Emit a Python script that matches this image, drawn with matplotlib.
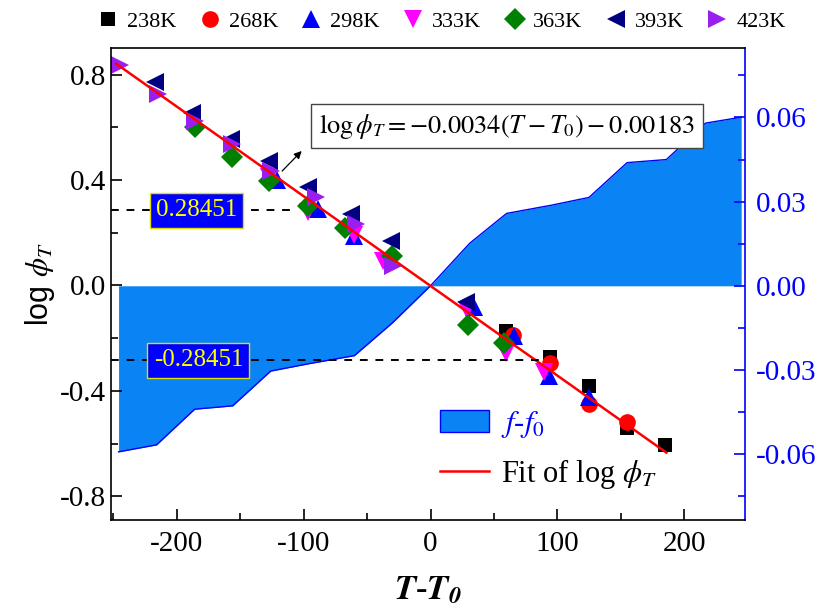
import matplotlib
matplotlib.use("Agg")
import matplotlib.pyplot as plt
from matplotlib.patches import Patch
from matplotlib.ticker import MultipleLocator, FixedLocator, FormatStrFormatter

plt.rcParams['font.family'] = ['Liberation Serif', 'DejaVu Serif']
plt.rcParams['mathtext.fontset'] = 'stix'
plt.rcParams['axes.unicode_minus'] = False

# ---- data ----
series_names = ['238K', '268K', '298K', '333K', '363K', '393K', '423K']
x238 = [59.6, 94.5, 124.7, 154.6, 184.8]
y238 = [-0.171, -0.272, -0.380, -0.541, -0.607]
x268 = [64.8, 94.5, 124.7, 155.0]
y268 = [-0.187, -0.294, -0.449, -0.518]
x298 = [-121, -88.7, -60, 34.6, 66, 93.7, 125]
y298 = [0.40, 0.29, 0.189, -0.083, -0.19, -0.342, -0.424]
x333 = [-157, -127, -97, -60, -37.5, 29, 59.6, 89.8]
y333 = [0.53, 0.41, 0.277, 0.19, 0.094, -0.095, -0.256, -0.329]
x363 = [-186, -156.5, -127, -96.6, -67.7, -30, 29.4, 58]
y363 = [0.60, 0.488, 0.397, 0.302, 0.217, 0.113, -0.15, -0.218]
x393 = [-217, -188, -157.5, -127, -96.6, -62.4, -31, 28]
y393 = [0.77, 0.656, 0.555, 0.473, 0.372, 0.271, 0.17, -0.064]
x423 = [-245, -215, -186, -156.5, -126, -90, -59, -29.7]
y423 = [0.836, 0.725, 0.622, 0.536, 0.435, 0.334, 0.233, 0.075]

# f - f0 difference curve (right axis)
xdiff = [-246, -216, -186, -156, -126, -95, -60, -30, 0, 31, 60, 95, 125, 155, 186, 217, 245]
ydiff = [-0.0592, -0.0567, -0.0440, -0.0428, -0.0304, -0.0277, -0.0249, -0.0132, 0.0,
         0.0152, 0.0258, 0.0287, 0.0315, 0.0439, 0.0450, 0.0580, 0.0601]

# linear fit log phi_T = a (T-T0) + b
fit_a = -0.0034
fit_b = -0.00183
fit_x = [-248, 186]
ref_val = 0.28451

left_ticks = [-0.8, -0.4, 0.0, 0.4, 0.8]
right_ticks = [-0.06, -0.03, 0.0, 0.03, 0.06]
x_ticks = [-200, -100, 0, 100, 200]

# ---- styles ----
styles = [
    dict(marker='s', color='black', ms=10),
    dict(marker='o', color='red', ms=12),
    dict(marker='^', color='blue', ms=13),
    dict(marker='v', color='magenta', ms=13),
    dict(marker='D', color='green', ms=11),
    dict(marker='<', color='#000080', ms=13),
    dict(marker='>', color='#9a1ef0', ms=13),
]
xs = [x238, x268, x298, x333, x363, x393, x423]
ys = [y238, y268, y298, y333, y363, y393, y423]

fig = plt.figure(figsize=(8.25, 6.10), dpi=100)
ax = fig.add_axes([0.1345, 0.1475, 0.7685, 0.7735])
ax2 = ax.twinx()
ax.set_zorder(ax2.get_zorder() + 1)
ax.patch.set_visible(False)

fillc = '#0a84f5'
ax2.fill_between(xdiff, ydiff, 0, color=fillc, linewidth=0)
ax2.plot(xdiff, ydiff, color='blue', lw=1.0)

handles = []
for x, y, st, nm in zip(xs, ys, styles, series_names):
    h, = ax.plot(x, y, linestyle='none', marker=st['marker'], color=st['color'],
                 markersize=st['ms'], markeredgewidth=0, label=nm)
    handles.append(h)

fy = [fit_a * v + fit_b for v in fit_x]
fit_line, = ax.plot(fit_x, fy, color='red', lw=1.8)

# reference dashed lines and value boxes
ax.hlines(ref_val, -252, -105, colors='black', linestyles=(0, (4, 4)), lw=1.4)
ax.hlines(-ref_val, -252, 91, colors='black', linestyles=(0, (4, 4)), lw=1.4)
bbox_v = dict(boxstyle='square,pad=0.25', facecolor='#0000ff', edgecolor='#e0e000', lw=1)
ax.text(0.135, ref_val, '0.28451', transform=ax.get_yaxis_transform(), color='yellow',
        fontsize=18, ha='center', va='center', bbox=bbox_v)
ax.text(0.138, -ref_val, '-0.28451', transform=ax.get_yaxis_transform(), color='yellow',
        fontsize=18, ha='center', va='center', bbox=bbox_v)

# equation box + arrow
ax.text(0.625, 0.835, r'$\log\phi_T=-0.0034\left(T-T_0\right)-0.00183$',
        transform=ax.transAxes, fontsize=19, ha='center', va='center',
        bbox=dict(boxstyle='square,pad=0.3', facecolor='white', edgecolor='#444444', lw=1))
ax.annotate('', xy=(-101.6, 0.51), xytext=(-117, 0.434),
            arrowprops=dict(arrowstyle='-|>', color='black', lw=0.9, mutation_scale=11,
                            shrinkA=0, shrinkB=0))

# axes limits, ticks
ax.set_xlim(-252, 248)
ax.set_ylim(-0.89, 0.9)
ax2.set_ylim(-0.0835, 0.0847)

ax.xaxis.set_major_locator(FixedLocator(x_ticks))
ax.xaxis.set_minor_locator(MultipleLocator(50))
ax.yaxis.set_major_locator(FixedLocator(left_ticks))
ax.yaxis.set_minor_locator(MultipleLocator(0.2))
ax.yaxis.set_major_formatter(FormatStrFormatter('%.1f'))
ax2.yaxis.set_major_locator(FixedLocator(right_ticks))
ax2.yaxis.set_minor_locator(MultipleLocator(0.015))
ax2.yaxis.set_major_formatter(FormatStrFormatter('%.2f'))

ax.tick_params(axis='both', which='major', direction='in', length=8, width=1.2,
               labelsize=21, top=False, right=False)
ax.tick_params(axis='both', which='minor', direction='in', length=5, width=1.2,
               top=False, right=False)
ax.tick_params(axis='x', pad=8)
ax2.tick_params(axis='y', which='major', direction='in', length=8, width=1.2,
                labelsize=21, colors='blue', pad=8)
ax2.tick_params(axis='y', which='minor', direction='in', length=5, width=1.2, colors='blue')

for sp in ['left', 'bottom', 'top']:
    ax.spines[sp].set_linewidth(1.2)
ax.spines['right'].set_visible(False)
ax2.spines['right'].set_color('blue')
ax2.spines['right'].set_linewidth(1.2)
for sp in ['left', 'bottom', 'top']:
    ax2.spines[sp].set_visible(False)

ax.set_ylabel(r'log $\phi_T$', fontsize=22, family='Liberation Sans', labelpad=2)
ax.set_xlabel(r'$\mathbfit{T}$-$\mathbfit{T}_{\mathbfit{0}}$', fontsize=25, labelpad=12)

# top legend
fig.legend(handles=handles, labels=series_names, loc='center', ncol=7,
           bbox_to_anchor=(0.535, 0.964), frameon=False, fontsize=16,
           handletextpad=0.35, columnspacing=1.0, handlelength=1.0, borderpad=0)

# inner legend
leg2 = ax.legend(handles=[Patch(facecolor=fillc, edgecolor='blue', lw=1), fit_line],
                 labels=[r'$f$-$f_0$', r'Fit of log $\phi_{T}$'],
                 loc='lower left', bbox_to_anchor=(0.495, 0.03), frameon=False,
                 fontsize=22, handlelength=1.6, handleheight=0.75,
                 handletextpad=0.4, labelspacing=0.55, borderpad=0)
leg2.get_texts()[0].set_color('blue')

fig.savefig('out.png', dpi=100)
